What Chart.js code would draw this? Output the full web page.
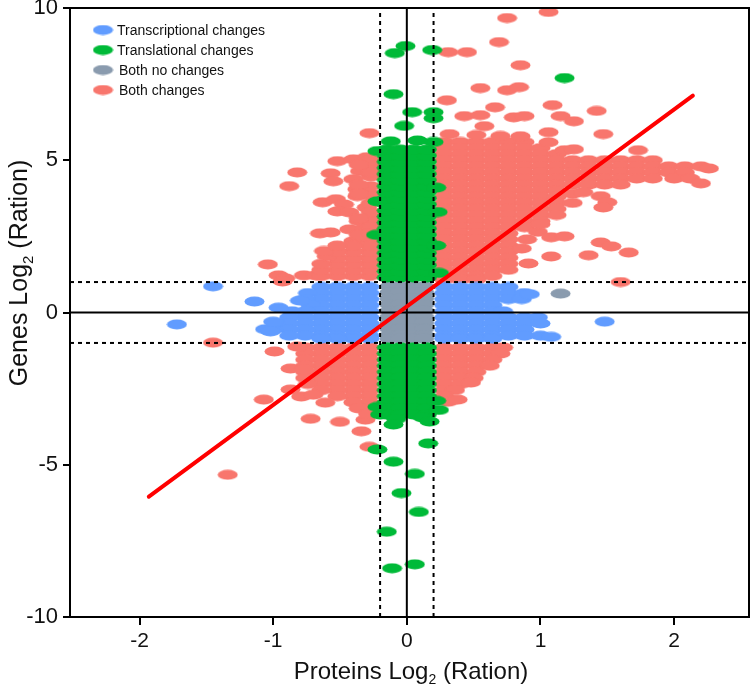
<!DOCTYPE html>
<html>
<head>
<meta charset="utf-8">
<script src="https://cdn.jsdelivr.net/npm/chart.js@4.4.1/dist/chart.umd.min.js"></script>
<style>
  html, body { margin: 0; padding: 0; background: #fff; }
  #wrap { width: 750px; height: 692px; }
</style>
</head>
<body>
<div id="wrap"><canvas id="scatterChart" width="750" height="692"></canvas></div>
<script>
// --- DATA ---
const xTicks = [-2, -1, 0, 1, 2];
const yTicks = [-10, -5, 0, 5, 10];
const xRange = [-2.52, 2.56];
const yRange = [-10, 10];
const foldX = 0.2;
const foldY = 1;
const fitLine = [[-1.93, -6.05], [2.14, 7.12]];

const seriesLabels = ["Transcriptional changes", "Translational changes", "Both no changes", "Both changes"];

const transcriptional = [
  // left of the column
  [-0.28, 0.84], [-0.4, 0.84], [-0.52, 0.84], [-0.64, 0.84],
  [-0.28, 0.64], [-0.4, 0.64], [-0.52, 0.64], [-0.64, 0.64], [-0.74, 0.64],
  [-0.28, 0.44], [-0.4, 0.44], [-0.52, 0.44], [-0.64, 0.44], [-0.76, 0.44],
  [-0.28, 0.24], [-0.4, 0.24], [-0.52, 0.24], [-0.64, 0.24], [-0.72, 0.24],
  [-0.28, 0.04], [-0.4, 0.04], [-0.52, 0.04], [-0.64, 0.04], [-0.76, 0.04], [-0.86, 0.04],
  [-0.28, -0.16], [-0.4, -0.16], [-0.52, -0.16], [-0.64, -0.16], [-0.76, -0.16], [-0.88, -0.16],
  [-0.28, -0.36], [-0.4, -0.36], [-0.52, -0.36], [-0.64, -0.36], [-0.76, -0.36], [-0.88, -0.36], [-0.98, -0.36],
  [-0.28, -0.56], [-0.4, -0.56], [-0.52, -0.56], [-0.64, -0.56], [-0.76, -0.56], [-0.88, -0.56], [-1.0, -0.56],
  [-0.28, -0.76], [-0.4, -0.76], [-0.52, -0.76], [-0.64, -0.76], [-0.76, -0.76], [-0.88, -0.76],
  [-0.28, -0.86], [-0.4, -0.86], [-0.52, -0.86], [-0.64, -0.86],
  [-1.06, -0.55], [-1.0, -0.3],
  [-1.45, 0.86], [-1.14, 0.36], [-1.72, -0.39], [-0.96, 0.16], [-0.8, 0.39], [-1.02, -0.62],
  // right of the column
  [0.28, 0.84], [0.4, 0.84], [0.52, 0.84], [0.64, 0.84], [0.76, 0.84],
  [0.28, 0.64], [0.4, 0.64], [0.52, 0.64], [0.64, 0.64], [0.76, 0.64], [0.88, 0.64],
  [0.28, 0.44], [0.4, 0.44], [0.52, 0.44], [0.64, 0.44], [0.76, 0.44], [0.86, 0.44],
  [0.28, 0.24], [0.4, 0.24], [0.52, 0.24], [0.64, 0.24],
  [0.28, 0.04], [0.4, 0.04], [0.52, 0.04], [0.64, 0.04], [0.72, 0.04],
  [0.28, -0.16], [0.4, -0.16], [0.52, -0.16], [0.64, -0.16], [0.76, -0.16], [0.88, -0.16], [0.98, -0.16],
  [0.28, -0.36], [0.4, -0.36], [0.52, -0.36], [0.64, -0.36], [0.76, -0.36], [0.88, -0.36], [1.0, -0.36],
  [0.28, -0.56], [0.4, -0.56], [0.52, -0.56], [0.64, -0.56], [0.76, -0.56], [0.88, -0.56],
  [0.28, -0.76], [0.4, -0.76], [0.52, -0.76], [0.64, -0.76], [0.76, -0.76], [0.88, -0.76], [1.0, -0.76], [1.08, -0.8],
  [0.28, -0.86], [0.4, -0.86], [0.52, -0.86], [0.64, -0.86],
  [0.92, 0.6], [1.48, -0.3]
];

const translational = [
  // upper column
  [-0.15, 1.15], [-0.05, 1.15], [0.05, 1.15], [0.15, 1.15],
  [-0.15, 1.35], [-0.05, 1.35], [0.05, 1.35], [0.15, 1.35],
  [-0.15, 1.55], [-0.05, 1.55], [0.05, 1.55], [0.15, 1.55],
  [-0.15, 1.75], [-0.05, 1.75], [0.05, 1.75], [0.15, 1.75],
  [-0.15, 1.95], [-0.05, 1.95], [0.05, 1.95], [0.15, 1.95],
  [-0.15, 2.15], [-0.05, 2.15], [0.05, 2.15], [0.15, 2.15],
  [-0.15, 2.35], [-0.05, 2.35], [0.05, 2.35], [0.15, 2.35],
  [-0.15, 2.55], [-0.05, 2.55], [0.05, 2.55], [0.15, 2.55],
  [-0.15, 2.75], [-0.05, 2.75], [0.05, 2.75], [0.15, 2.75],
  [-0.15, 2.95], [-0.05, 2.95], [0.05, 2.95], [0.15, 2.95],
  [-0.15, 3.15], [-0.05, 3.15], [0.05, 3.15], [0.15, 3.15],
  [-0.15, 3.35], [-0.05, 3.35], [0.05, 3.35], [0.15, 3.35],
  [-0.15, 3.55], [-0.05, 3.55], [0.05, 3.55], [0.15, 3.55],
  [-0.15, 3.75], [-0.05, 3.75], [0.05, 3.75], [0.15, 3.75],
  [-0.15, 3.95], [-0.05, 3.95], [0.05, 3.95], [0.15, 3.95],
  [-0.15, 4.15], [-0.05, 4.15], [0.05, 4.15], [0.15, 4.15],
  [-0.15, 4.35], [-0.05, 4.35], [0.05, 4.35], [0.15, 4.35],
  [-0.15, 4.55], [-0.05, 4.55], [0.05, 4.55], [0.15, 4.55],
  [-0.15, 4.75], [-0.05, 4.75], [0.05, 4.75], [0.15, 4.75],
  [-0.15, 4.95], [-0.05, 4.95], [0.05, 4.95], [0.15, 4.95],
  [-0.15, 5.15], [-0.05, 5.15], [0.05, 5.15], [0.15, 5.15],
  [-0.15, 5.35], [-0.05, 5.35], [0.05, 5.35], [0.15, 5.35],
  [-0.22, 3.65], [0.22, 2.2], [0.23, 3.3], [0.22, 4.1], [-0.23, 2.55], [0.24, 1.3],
  [-0.22, 5.3], [0.2, 5.6], [-0.12, 5.62], [0.08, 5.65],
  // top outliers
  [-0.01, 8.75], [-0.09, 8.52], [0.19, 8.62], [-0.1, 7.17], [0.04, 6.58], [0.2, 6.58],
  [0.2, 6.38], [-0.02, 6.13], [1.18, 7.7],
  // lower column
  [-0.15, -1.15], [-0.05, -1.15], [0.05, -1.15], [0.15, -1.15],
  [-0.15, -1.35], [-0.05, -1.35], [0.05, -1.35], [0.15, -1.35],
  [-0.15, -1.55], [-0.05, -1.55], [0.05, -1.55], [0.15, -1.55],
  [-0.15, -1.75], [-0.05, -1.75], [0.05, -1.75], [0.15, -1.75],
  [-0.15, -1.95], [-0.05, -1.95], [0.05, -1.95], [0.15, -1.95],
  [-0.15, -2.15], [-0.05, -2.15], [0.05, -2.15], [0.15, -2.15],
  [-0.15, -2.35], [-0.05, -2.35], [0.05, -2.35], [0.15, -2.35],
  [-0.15, -2.55], [-0.05, -2.55], [0.05, -2.55], [0.15, -2.55],
  [-0.15, -2.75], [-0.05, -2.75], [0.05, -2.75], [0.15, -2.75],
  [-0.15, -2.95], [-0.05, -2.95], [0.05, -2.95], [0.15, -2.95],
  [-0.15, -3.15], [-0.05, -3.15], [0.05, -3.15], [0.15, -3.15],
  [-0.15, -3.35], [-0.05, -3.35], [0.05, -3.35], [0.15, -3.35],
  [-0.22, -3.1], [0.22, -2.9], [0.24, -3.2], [-0.2, -3.35], [0.12, -3.45], [-0.08, -3.5],
  // bottom outliers
  [-0.1, -3.68], [0.17, -3.58], [0.16, -4.3], [-0.22, -4.5], [-0.1, -4.9], [0.06, -5.3],
  [-0.04, -5.93], [0.09, -6.55], [-0.15, -7.2], [-0.11, -8.4], [0.06, -8.27]
];

const bothNone = [
  [-0.13, 0.86], [-0.05, 0.86], [0.05, 0.86], [0.13, 0.86],
  [-0.13, 0.66], [-0.05, 0.66], [0.05, 0.66], [0.13, 0.66],
  [-0.13, 0.46], [-0.05, 0.46], [0.05, 0.46], [0.13, 0.46],
  [-0.13, 0.26], [-0.05, 0.26], [0.05, 0.26], [0.13, 0.26],
  [-0.13, 0.06], [-0.05, 0.06], [0.05, 0.06], [0.13, 0.06],
  [-0.13, -0.14], [-0.05, -0.14], [0.05, -0.14], [0.13, -0.14],
  [-0.13, -0.34], [-0.05, -0.34], [0.05, -0.34], [0.13, -0.34],
  [-0.13, -0.54], [-0.05, -0.54], [0.05, -0.54], [0.13, -0.54],
  [-0.13, -0.74], [-0.05, -0.74], [0.05, -0.74], [0.13, -0.74],
  [-0.13, -0.86], [-0.05, -0.86], [0.05, -0.86], [0.13, -0.86],
  [1.15, 0.62]
];

const bothChanged = [
  // upper right, dense part
  [0.28, 5.6], [0.4, 5.6], [0.52, 5.6], [0.64, 5.6], [0.76, 5.6], [0.88, 5.6],
  [0.28, 5.4], [0.4, 5.4], [0.52, 5.4], [0.64, 5.4], [0.76, 5.4], [0.88, 5.4], [1.0, 5.4],
  [0.28, 5.2], [0.4, 5.2], [0.52, 5.2], [0.64, 5.2], [0.76, 5.2], [0.88, 5.2], [1.0, 5.2], [1.12, 5.2],
  [0.28, 5.0], [0.4, 5.0], [0.52, 5.0], [0.64, 5.0], [0.76, 5.0], [0.88, 5.0], [1.0, 5.0], [1.12, 5.0],
  [0.28, 4.8], [0.4, 4.8], [0.52, 4.8], [0.64, 4.8], [0.76, 4.8], [0.88, 4.8], [1.0, 4.8], [1.12, 4.8],
  [0.28, 4.6], [0.4, 4.6], [0.52, 4.6], [0.64, 4.6], [0.76, 4.6], [0.88, 4.6], [1.0, 4.6], [1.12, 4.6],
  [0.28, 4.4], [0.4, 4.4], [0.52, 4.4], [0.64, 4.4], [0.76, 4.4], [0.88, 4.4], [1.0, 4.4], [1.12, 4.4],
  [0.28, 4.2], [0.4, 4.2], [0.52, 4.2], [0.64, 4.2], [0.76, 4.2], [0.88, 4.2], [1.0, 4.2], [1.12, 4.2],
  [0.28, 4.0], [0.4, 4.0], [0.52, 4.0], [0.64, 4.0], [0.76, 4.0], [0.88, 4.0], [1.0, 4.0], [1.12, 4.0],
  [0.28, 3.8], [0.4, 3.8], [0.52, 3.8], [0.64, 3.8], [0.76, 3.8], [0.88, 3.8], [1.0, 3.8], [1.12, 3.8],
  [0.28, 3.6], [0.4, 3.6], [0.52, 3.6], [0.64, 3.6], [0.76, 3.6], [0.88, 3.6], [1.0, 3.6], [1.12, 3.6],
  [0.28, 3.4], [0.4, 3.4], [0.52, 3.4], [0.64, 3.4], [0.76, 3.4], [0.88, 3.4], [1.0, 3.4], [1.12, 3.4],
  [0.28, 3.2], [0.4, 3.2], [0.52, 3.2], [0.64, 3.2], [0.76, 3.2], [0.88, 3.2], [1.0, 3.2], [1.12, 3.2],
  [0.28, 3.0], [0.4, 3.0], [0.52, 3.0], [0.64, 3.0], [0.76, 3.0], [0.88, 3.0], [1.0, 3.0],
  [0.28, 2.8], [0.4, 2.8], [0.52, 2.8], [0.64, 2.8], [0.76, 2.8],
  [0.28, 2.6], [0.4, 2.6], [0.52, 2.6], [0.64, 2.6], [0.76, 2.6],
  [0.28, 2.4], [0.4, 2.4], [0.52, 2.4], [0.64, 2.4], [0.76, 2.4],
  [0.28, 2.2], [0.4, 2.2], [0.52, 2.2], [0.64, 2.2], [0.76, 2.2],
  [0.28, 2.0], [0.4, 2.0], [0.52, 2.0], [0.64, 2.0], [0.76, 2.0],
  [0.28, 1.8], [0.4, 1.8], [0.52, 1.8], [0.64, 1.8], [0.76, 1.8],
  [0.28, 1.6], [0.4, 1.6], [0.52, 1.6], [0.64, 1.6], [0.76, 1.6],
  [0.28, 1.4], [0.4, 1.4], [0.52, 1.4], [0.64, 1.4], [0.76, 1.4],
  [0.28, 1.2], [0.4, 1.2], [0.52, 1.2], [0.64, 1.2],
  [0.28, 1.08], [0.4, 1.08], [0.52, 1.08],
  // upper right, arm
  [1.24, 5.0], [1.36, 5.0], [1.48, 5.0], [1.6, 5.0], [1.72, 5.0], [1.84, 5.0],
  [1.24, 4.8], [1.36, 4.8], [1.48, 4.8], [1.6, 4.8], [1.72, 4.8], [1.84, 4.8], [1.96, 4.8], [2.08, 4.8], [2.2, 4.8],
  [1.24, 4.6], [1.36, 4.6], [1.48, 4.6], [1.6, 4.6], [1.72, 4.6], [1.84, 4.6], [1.96, 4.6], [2.08, 4.6],
  [1.24, 4.4], [1.36, 4.4], [1.48, 4.4], [1.6, 4.4], [1.72, 4.4], [1.84, 4.4], [2.0, 4.4], [2.12, 4.4],
  [1.24, 4.2], [1.36, 4.2], [1.48, 4.2], [1.6, 4.2],
  [2.26, 4.73], [2.2, 4.24], [1.73, 5.33],
  [1.24, 3.9], [1.32, 3.95], [1.45, 3.82], [1.5, 3.62], [1.47, 3.45], [1.24, 3.6],
  [0.88, 2.8], [0.98, 2.65], [0.9, 2.4], [1.0, 2.9], [0.86, 2.1],
  [1.08, 2.47], [1.18, 2.5], [1.45, 2.3], [1.53, 2.17], [1.66, 1.97], [1.36, 1.88],
  [1.08, 1.84], [0.91, 1.61], [1.6, 1.0],
  // upper right, scattered top
  [1.06, 9.87], [0.75, 9.67], [0.69, 8.88], [0.31, 8.55], [0.45, 8.55], [0.85, 8.12],
  [0.55, 7.37], [0.75, 7.3], [0.84, 7.4], [0.3, 6.97], [0.66, 6.74], [1.09, 6.81],
  [1.42, 6.62], [0.43, 6.45], [0.55, 6.48], [0.8, 6.41], [0.88, 6.45], [1.15, 6.45],
  [1.25, 6.28], [0.58, 6.12], [1.06, 5.92], [0.32, 5.86], [0.85, 5.79], [1.47, 5.86],
  [1.06, 5.59], [0.52, 5.83], [1.18, 5.33], [1.25, 5.36], [0.7, 5.8],
  // upper left
  [-0.28, 5.89], [-0.82, 4.6], [-0.88, 4.15], [-0.52, 4.97], [-0.4, 5.03], [-0.57, 4.57],
  [-0.55, 4.31], [-0.35, 4.64], [-0.27, 4.8], [-0.27, 4.47], [-0.4, 4.38], [-0.37, 4.05],
  [-0.63, 3.62], [-0.53, 3.72], [-0.47, 3.55], [-0.52, 3.32], [-0.43, 3.29], [-0.37, 3.82],
  [-0.29, 3.95], [-0.25, 3.82], [-0.65, 2.6], [-0.43, 2.73], [-0.32, 2.76],
  [-0.4, 2.34], [-0.27, 2.4], [-0.25, 3.16], [-0.25, 2.96], [-0.57, 2.63],
  [-1.04, 1.58], [-0.96, 1.22], [-0.91, 1.12], [-0.93, 1.02],
  [-0.77, 1.22], [-0.68, 1.22], [-0.27, 1.64],
  [-0.3, 3.45], [-0.27, 4.15], [-0.3, 5.1],
  [-0.36, 3.0], [-0.36, 2.55], [-0.27, 5.0], [-0.27, 4.6], [-0.27, 3.6], [-0.27, 3.3],
  [-0.27, 2.8], [-0.27, 2.6], [-0.36, 4.85], [-0.36, 4.2], [-0.36, 3.9], [-0.36, 3.1],
  [-0.28, 1.2], [-0.4, 1.2], [-0.52, 1.2], [-0.64, 1.2],
  [-0.28, 1.4], [-0.4, 1.4], [-0.52, 1.4], [-0.64, 1.4],
  [-0.28, 1.6], [-0.4, 1.6], [-0.52, 1.6], [-0.64, 1.6],
  [-0.28, 1.8], [-0.4, 1.8], [-0.52, 1.8], [-0.6, 1.85],
  [-0.28, 2.0], [-0.4, 2.0], [-0.52, 2.0], [-0.62, 2.02],
  [-0.28, 2.2], [-0.4, 2.2], [-0.52, 2.2],
  // lower left
  [-0.28, -1.15], [-0.4, -1.15], [-0.52, -1.15], [-0.64, -1.15], [-0.76, -1.15],
  [-0.28, -1.35], [-0.4, -1.35], [-0.52, -1.35], [-0.64, -1.35], [-0.76, -1.35],
  [-0.28, -1.55], [-0.4, -1.55], [-0.52, -1.55], [-0.64, -1.55], [-0.76, -1.55],
  [-0.28, -1.75], [-0.4, -1.75], [-0.52, -1.75], [-0.64, -1.75], [-0.76, -1.75],
  [-0.28, -1.95], [-0.4, -1.95], [-0.52, -1.95], [-0.64, -1.95], [-0.76, -1.95],
  [-0.28, -2.15], [-0.4, -2.15], [-0.52, -2.15], [-0.64, -2.15], [-0.76, -2.15],
  [-0.28, -2.35], [-0.4, -2.35], [-0.52, -2.35], [-0.64, -2.35], [-0.74, -2.35],
  [-0.28, -2.55], [-0.4, -2.55], [-0.52, -2.55], [-0.64, -2.55],
  [-0.28, -2.75], [-0.4, -2.75], [-0.52, -2.75],
  [-0.28, -2.95], [-0.4, -2.95],
  [-0.28, -3.15], [-0.36, -3.15],
  [-1.45, -0.99], [-0.99, -1.28], [-0.82, -1.12], [-0.87, -1.84], [-0.87, -2.53],
  [-0.79, -2.76], [-1.07, -2.86], [-0.72, -3.49], [-0.5, -3.59], [-0.34, -3.9],
  [-0.31, -3.52], [-0.29, -3.33], [-0.28, -4.41], [-1.34, -5.33], [-0.61, -2.96],
  [-0.7, -2.7], [-0.77, -1.87],
  // lower right
  [0.28, -1.15], [0.4, -1.15], [0.52, -1.15], [0.64, -1.15], [0.72, -1.15],
  [0.28, -1.35], [0.4, -1.35], [0.52, -1.35], [0.64, -1.35], [0.7, -1.35],
  [0.28, -1.55], [0.4, -1.55], [0.52, -1.55], [0.64, -1.55],
  [0.28, -1.75], [0.4, -1.75], [0.52, -1.75], [0.62, -1.75],
  [0.28, -1.95], [0.4, -1.95], [0.52, -1.95],
  [0.28, -2.15], [0.4, -2.15], [0.5, -2.15],
  [0.28, -2.35], [0.4, -2.35], [0.48, -2.3],
  [0.28, -2.55], [0.36, -2.55],
  [0.28, -2.75], [0.31, -2.93], [0.38, -2.86]
];

// --- MARKERS: flat ellipses like the original plot ---
function ellipseMarker(color) {
  const c = document.createElement("canvas");
  c.width = 21;
  c.height = 11;
  const g = c.getContext("2d");
  g.fillStyle = color;
  g.beginPath();
  g.ellipse(10.5, 5.5, 10, 5, 0, 0, Math.PI * 2);
  g.fill();
  return c;
}

const colors = ["#619CFF", "#00BA38", "#8A9BAE", "#F8766D"];
const markers = colors.map(ellipseMarker);

const toXY = (pts) => pts.map(([x, y]) => ({ x: x, y: y }));

function refLine(points, dashed) {
  return {
    label: "",
    data: toXY(points),
    showLine: true,
    borderColor: "#000",
    borderWidth: 2,
    borderDash: dashed ? [4, 4] : [],
    pointRadius: 0,
    order: -1,
  };
}

// --- PLUGINS ---
const framePlugin = {
  id: "frame",
  afterDraw(chart) {
    const { ctx, chartArea } = chart;
    ctx.save();
    ctx.strokeStyle = "#000";
    ctx.lineWidth = 2;
    ctx.beginPath();
    ctx.moveTo(chartArea.left, chartArea.top);
    ctx.lineTo(chartArea.right, chartArea.top);
    ctx.lineTo(chartArea.right, chartArea.bottom);
    ctx.stroke();
    ctx.restore();
  },
};

const legendPlugin = {
  id: "insideLegend",
  afterDraw(chart) {
    const ctx = chart.ctx;
    ctx.save();
    ctx.font = '14px Arial, "Liberation Sans", sans-serif';
    ctx.fillStyle = "#111";
    ctx.textBaseline = "middle";
    seriesLabels.forEach((label, i) => {
      const y = 30 + i * 20;
      ctx.drawImage(markers[i], 103 - 10.5, y - 5.5);
      ctx.fillText(label, i < 2 ? 117 : 119, y + 1);
    });
    ctx.restore();
  },
};

function drawSubTitle(ctx, parts, size) {
  // parts: main text, subscript, rest
  const big = size + 'px Arial, "Liberation Sans", sans-serif';
  const small = Math.round(size * 0.6) + 'px Arial, "Liberation Sans", sans-serif';
  ctx.font = big;
  const w1 = ctx.measureText(parts[0]).width;
  const w3 = ctx.measureText(parts[2]).width;
  ctx.font = small;
  const w2 = ctx.measureText(parts[1]).width;
  let x = -(w1 + w2 + w3) / 2;
  ctx.font = big;
  ctx.fillText(parts[0], x, 0);
  x += w1;
  ctx.font = small;
  ctx.fillText(parts[1], x, size * 0.22);
  x += w2;
  ctx.font = big;
  ctx.fillText(parts[2], x, 0);
}

const axisTitlePlugin = {
  id: "axisTitles",
  afterDraw(chart) {
    const ctx = chart.ctx;
    ctx.save();
    ctx.fillStyle = "#111";
    ctx.textBaseline = "alphabetic";
    ctx.textAlign = "left";
    ctx.translate(411, 679);
    drawSubTitle(ctx, ["Proteins Log", "2", " (Ration)"], 24);
    ctx.restore();

    ctx.save();
    ctx.fillStyle = "#111";
    ctx.textBaseline = "alphabetic";
    ctx.textAlign = "left";
    ctx.translate(27, 273);
    ctx.rotate(-Math.PI / 2);
    drawSubTitle(ctx, ["Genes Log", "2", " (Ration)"], 25);
    ctx.restore();
  },
};

// --- CHART ---
const tickFont = { family: 'Arial, "Liberation Sans", sans-serif' };

new Chart(document.getElementById("scatterChart"), {
  type: "scatter",
  data: {
    datasets: [
      { label: seriesLabels[0], data: toXY(transcriptional), pointStyle: markers[0], order: 2 },
      { label: seriesLabels[1], data: toXY(translational), pointStyle: markers[1], order: 1 },
      { label: seriesLabels[2], data: toXY(bothNone), pointStyle: markers[2], order: 4 },
      { label: seriesLabels[3], data: toXY(bothChanged), pointStyle: markers[3], order: 3 },
      {
        label: "fit",
        data: toXY(fitLine),
        showLine: true,
        borderColor: "#FF0000",
        borderWidth: 4,
        borderCapStyle: "round",
        pointRadius: 0,
        order: -2,
      },
      refLine([[0, yRange[0]], [0, yRange[1]]], false),
      refLine([[xRange[0], 0], [xRange[1], 0]], false),
      refLine([[-foldX, yRange[0]], [-foldX, yRange[1]]], true),
      refLine([[foldX, yRange[0]], [foldX, yRange[1]]], true),
      refLine([[xRange[0], -foldY], [xRange[1], -foldY]], true),
      refLine([[xRange[0], foldY], [xRange[1], foldY]], true),
    ],
  },
  options: {
    responsive: false,
    animation: false,
    events: [],
    layout: { autoPadding: false, padding: { top: 8, right: 1, left: 0, bottom: 0 } },
    plugins: {
      legend: { display: false },
      tooltip: { enabled: false },
    },
    scales: {
      x: {
        type: "linear",
        min: xRange[0],
        max: xRange[1],
        afterBuildTicks: (scale) => {
          scale.ticks = xTicks.map((v) => ({ value: v }));
        },
        afterFit: (scale) => {
          scale.height = 75;
          scale.paddingLeft = 0;
          scale.paddingRight = 0;
        },
        grid: { drawOnChartArea: false, tickLength: 8, color: "#000", lineWidth: 2 },
        border: { display: true, color: "#000", width: 2 },
        ticks: { color: "#111", font: { ...tickFont, size: 21 }, padding: 4, maxRotation: 0 },
      },
      y: {
        type: "linear",
        min: yRange[0],
        max: yRange[1],
        afterBuildTicks: (scale) => {
          scale.ticks = yTicks.map((v) => ({ value: v }));
        },
        afterFit: (scale) => {
          scale.width = 70;
          scale.paddingTop = 0;
          scale.paddingBottom = 0;
        },
        grid: { drawOnChartArea: false, tickLength: 7, color: "#000", lineWidth: 2 },
        border: { display: true, color: "#000", width: 2 },
        ticks: { color: "#111", font: { ...tickFont, size: 22 }, padding: 5 },
      },
    },
  },
  plugins: [framePlugin, legendPlugin, axisTitlePlugin],
});
</script>
</body>
</html>
